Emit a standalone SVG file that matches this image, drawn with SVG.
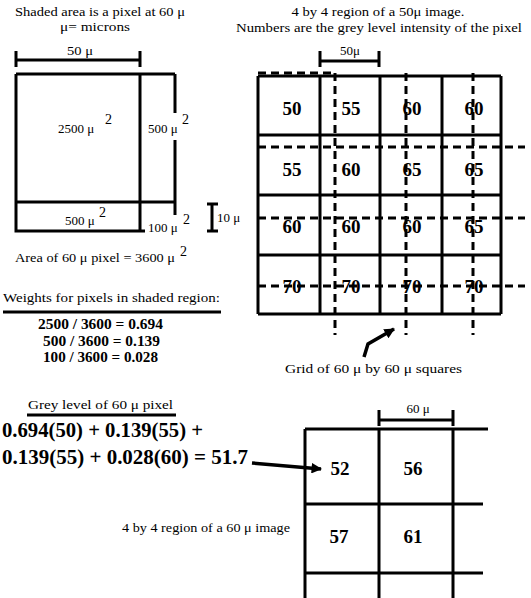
<svg xmlns="http://www.w3.org/2000/svg" width="531" height="598" viewBox="0 0 531 598">
<defs>
<style>
.t{font-family:"Liberation Serif","Times New Roman",serif;font-size:13px;fill:#000}
.b{font-family:"Liberation Serif","Times New Roman",serif;font-weight:bold;fill:#000}
.n{font-size:19px;text-anchor:middle}
.sup{font-family:"Liberation Serif","Times New Roman",serif;font-size:14px;fill:#000}
.s{stroke:#000;stroke-width:3;fill:none}
.d{stroke:#000;stroke-width:3;fill:none;stroke-dasharray:8 5}
</style>
<marker id="ah" viewBox="0 0 10 10" refX="9" refY="5" markerWidth="3.2" markerHeight="3" orient="auto" markerUnits="strokeWidth">
<path d="M0,0 L10,5 L0,10 z" fill="#000"/>
</marker>
</defs>
<rect width="531" height="598" fill="#fff"/>

<g id="left-pixel">
<text class="t" x="15" y="16" textLength="170" lengthAdjust="spacingAndGlyphs">Shaded area is a pixel at 60 μ</text>
<text class="t" x="60" y="31" textLength="70" lengthAdjust="spacingAndGlyphs">μ= microns</text>
<path class="s" d="M16,60 H140 M16,51 V67 M140,51 V67"/>
<text class="t" x="67" y="55" textLength="26" lengthAdjust="spacingAndGlyphs">50 μ</text>
<path class="s" d="M16,74 H175 M16,74 V231 H145 M140,74 V231 M175,74 V113 M175,140 V215 M16,202 H175"/>
<text class="t" x="58" y="133">2500  μ</text><text class="sup" x="105" y="124">2</text>
<text class="t" x="148" y="133">500 μ</text><text class="sup" x="182" y="124">2</text>
<text class="t" x="65" y="225">500 μ</text><text class="sup" x="99" y="217">2</text>
<text class="t" x="148" y="232">100 μ</text><text class="sup" x="183" y="224">2</text>
<path class="s" d="M212,204 V231 M207,204 H218 M207,231 H218"/>
<text class="t" x="217" y="222">10 μ</text>
<text class="t" x="15" y="262" textLength="160" lengthAdjust="spacingAndGlyphs">Area of 60 μ pixel = 3600 μ</text><text class="sup" x="180" y="256">2</text>
</g>

<g id="grid50">
<text class="t" x="378" y="16" text-anchor="middle" textLength="173" lengthAdjust="spacingAndGlyphs">4 by 4 region of a 50μ image.</text>
<text class="t" x="379" y="32" text-anchor="middle" textLength="286" lengthAdjust="spacingAndGlyphs">Numbers are the grey level intensity of the pixel</text>
<path class="s" d="M320,61 H379 M320,51 V67 M379,51 V67"/>
<text class="t" x="350" y="55" text-anchor="middle">50μ</text>
<path class="s" d="M258,76 H501 M258,135 H501 M258,195 H501 M258,255 H501 M258,314 H501 M258,76 V314 M320,76 V314 M380,76 V314 M442,76 V314 M501,76 V314"/>
<g class="b n">
<text x="292" y="115">50</text><text x="351" y="115">55</text><text x="412" y="115">60</text><text x="474" y="115">60</text>
<text x="292" y="176">55</text><text x="351" y="176">60</text><text x="412" y="176">65</text><text x="474" y="176">65</text>
<text x="292" y="233">60</text><text x="351" y="233">60</text><text x="412" y="233">60</text><text x="474" y="233">65</text>
<text x="292" y="293">70</text><text x="351" y="293">70</text><text x="412" y="293">70</text><text x="474" y="293">70</text>
</g>
</g>

<g id="grid60-overlay">
<path class="d" d="M258,73 H335 M258,147 H525 M258,218 H525 M258,286 H525 M335,73 V335 M406,73 V335 M473,73 V335"/>
<text class="t" x="285" y="373" textLength="177" lengthAdjust="spacingAndGlyphs">Grid of 60 μ by 60 μ squares</text>
</g>

<g id="weights">
<text class="t" x="3" y="302" textLength="217" lengthAdjust="spacingAndGlyphs">Weights for pixels in shaded region:</text>
<path class="s" d="M3,312 H221"/>
<text class="b" x="38" y="329" font-size="14" textLength="125" lengthAdjust="spacingAndGlyphs">2500 / 3600 = 0.694</text>
<text class="b" x="43" y="346" font-size="14" textLength="117" lengthAdjust="spacingAndGlyphs">500 / 3600 = 0.139</text>
<text class="b" x="43" y="362" font-size="14" textLength="115" lengthAdjust="spacingAndGlyphs">100 / 3600 = 0.028</text>
</g>

<g id="grey-level">
<text class="t" x="28" y="409" textLength="145" lengthAdjust="spacingAndGlyphs">Grey level of 60  μ pixel</text>
<path class="s" d="M27,415 H176"/>
<text class="b" x="2" y="437" font-size="20" textLength="201" lengthAdjust="spacingAndGlyphs">0.694(50) + 0.139(55) +</text>
<text class="b" x="2" y="464" font-size="20" textLength="246" lengthAdjust="spacingAndGlyphs">0.139(55) + 0.028(60) = 51.7</text>
</g>

<g id="grid60">
<path class="s" d="M379,420 H453 M379,410 V426 M453,410 V426"/>
<text class="t" x="418" y="413" text-anchor="middle">60 μ</text>
<path class="s" d="M305,429 H488 M305,504 H483 M305,573 H483 M305,429 V598 M379,429 V598 M453,429 V598"/>
<g class="b n">
<text x="340" y="475">52</text><text x="413" y="475">56</text>
<text x="339" y="543">57</text><text x="413" y="543">61</text>
</g>
<text class="t" x="122" y="532" textLength="168" lengthAdjust="spacingAndGlyphs">4 by 4 region of a 60 μ image</text>
</g>

<g id="connectors">
<path d="M252,463 L321,469" stroke="#000" stroke-width="3.5" fill="none" marker-end="url(#ah)"/>
<path d="M364,357 L368,344 L394,329" stroke="#000" stroke-width="3.5" fill="none" marker-end="url(#ah)"/>
</g>
</svg>
